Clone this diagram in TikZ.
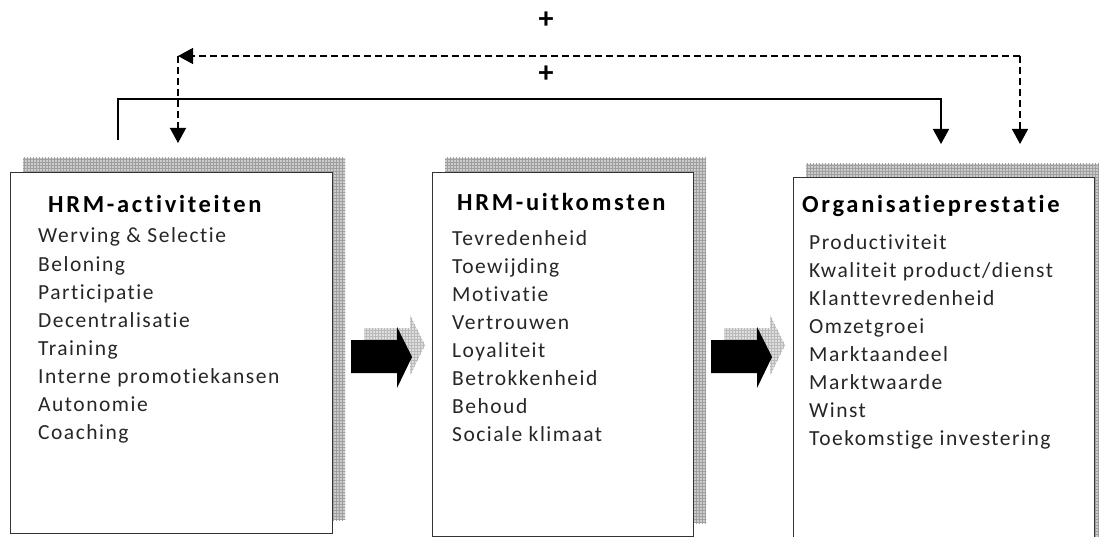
\documentclass[tikz,border=0pt]{standalone}
\usepackage{fontspec}
\setmainfont{Carlito}[Ligatures=NoCommon]
\newfontfamily\itemfont{Carlito}[LetterSpace=7,Ligatures=NoCommon]
\newfontfamily\headfont{Carlito}[LetterSpace=11,Ligatures=NoCommon]
\usetikzlibrary{arrows.meta,patterns}

\begin{document}
\begin{tikzpicture}[x=1pt,y=-1pt,
  box/.style={draw=black!80,line width=1.3pt,fill=white},
  boxshadow/.style={fill=gray!40,postaction={pattern=grid,pattern color=gray!75}},
  arrowshadow/.style={fill=gray!25,postaction={pattern=grid,pattern color=gray!55}},
  head/.style={anchor=base west,inner sep=0pt,font=\headfont\bfseries\fontsize{24.5}{28}\selectfont},
  item/.style={anchor=base west,inner sep=0pt,text=black!85,font=\itemfont\fontsize{21.5}{28}\selectfont},
  plus/.style={inner sep=0pt,font=\bfseries\fontsize{30}{32}\selectfont},
  link/.style={line width=1.4pt,-{Triangle[width=16pt,length=15pt]}},
  feedback/.style={link,dash pattern=on 7pt off 4pt}]
 \useasboundingbox (0,0) rectangle (1099,537);
 \clip (0,0) rectangle (1099,537);
 % shadows of the three boxes
 \fill[boxshadow] (23,158) rectangle (345,520);
 \fill[boxshadow] (445,158) rectangle (706,523);
 \fill[boxshadow] (806,164) rectangle (1107,560);
 % the boxes
 \node (box 1) at (10,172) [box,anchor=north west,minimum width=322pt,minimum height=361pt] {};
 \node (box 2) at (432,172) [box,anchor=north west,minimum width=261pt,minimum height=364pt] {};
 \node (box 3) at (793,177) [box,anchor=north west,minimum width=301pt,minimum height=380pt] {};
 % titles
 \node (head 1) at (48,213) [head] {HRM-activiteiten};
 \node (head 2) at (457,211) [head] {HRM-uitkomsten};
 \node (head 3) at (802,213) [head] {Organisatieprestatie};
 % lists
 \foreach \txt [count=\i] in {Werving \& Selectie,Beloning,Participatie,Decentralisatie,Training,Interne promotiekansen,Autonomie,Coaching}
  \node (item 1-\i) at (38,{243+28*(\i-1)}) [item] {\txt};
 \foreach \txt [count=\i] in {Tevredenheid,Toewijding,Motivatie,Vertrouwen,Loyaliteit,Betrokkenheid,Behoud,Sociale klimaat}
  \node (item 2-\i) at (452,{245+28*(\i-1)}) [item] {\txt};
 \foreach \txt [count=\i] in {Productiviteit,Kwaliteit product/dienst,Klanttevredenheid,Omzetgroei,Marktaandeel,Marktwaarde,Winst,Toekomstige investering}
  \node (item 3-\i) at (809,{249+28*(\i-1)}) [item] {\txt};
 % block arrows between the boxes
 \foreach \dx in {0,360} {
  \fill[arrowshadow,shift={(\dx+13,-12)}] (351,340) -- (397,340) -- (397,327) -- (412,357) -- (397,388) -- (397,373) -- (351,373) -- cycle;
  \fill[black,shift={(\dx,0)}] (351,340) -- (397,340) -- (397,327) -- (412,357) -- (397,388) -- (397,373) -- (351,373) -- cycle;
 }
 % links on top
 \coordinate (out 1) at (118,140);
 \coordinate (in 3) at (941,144);
 \coordinate (fb left) at (178,56);
 \coordinate (fb right) at (1020,56);
 \coordinate (fb in 1) at (178,143);
 \coordinate (fb in 3) at (1020,144);
 \draw[link] (out 1) |- (941,99) -- (in 3);
 \draw[feedback] (fb right) -- (fb left);
 \draw[feedback] (fb left) -- (fb in 1);
 \draw[feedback] (fb right) -- (fb in 3);
 \node (plus fb) at (546,20) [plus] {+};
 \node (plus ff) at (546,74) [plus] {+};
\end{tikzpicture}
\end{document}
